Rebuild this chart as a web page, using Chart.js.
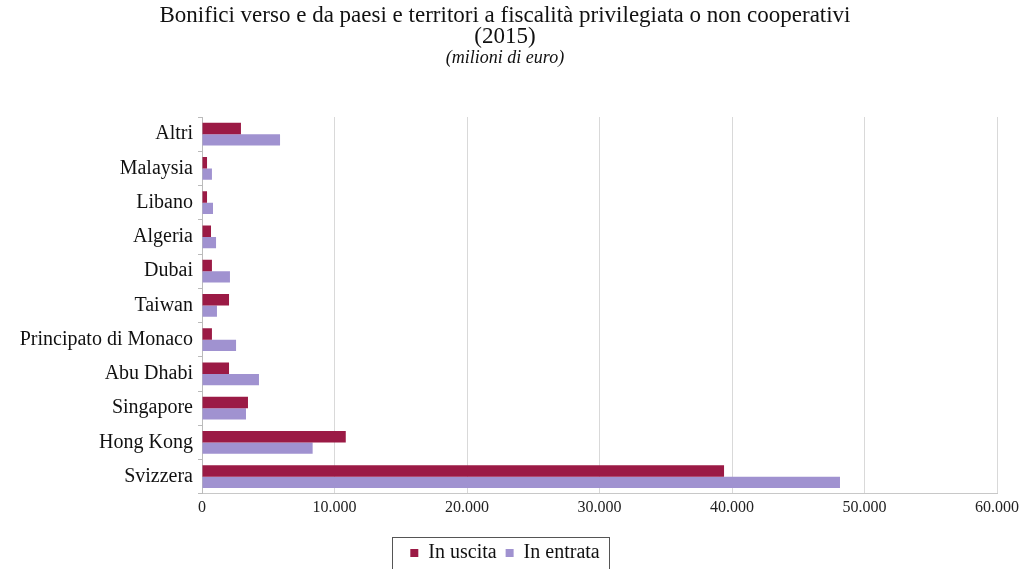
<!DOCTYPE html>
<html>
<head>
<meta charset="utf-8">
<script src="https://cdn.jsdelivr.net/npm/chart.js@4/dist/chart.umd.min.js"></script>
<style>
  html, body { margin: 0; padding: 0; background: #fff; }
  #wrap { width: 1023px; height: 569px; }
</style>
</head>
<body>
<div id="wrap"><canvas id="bonificiChart"></canvas></div>
<script>
// Data (milioni di euro, 2015)
const categories = ['Altri', 'Malaysia', 'Libano', 'Algeria', 'Dubai', 'Taiwan',
  'Principato di Monaco', 'Abu Dhabi', 'Singapore', 'Hong Kong', 'Svizzera'];
const inUscita = [2940, 380, 380, 680, 750, 2040, 750, 2040, 3470, 10850, 39400];
const inEntrata = [5890, 750, 830, 1060, 2110, 1130, 2570, 4300, 3320, 8350, 48150];
const xTicks = [0, 10000, 20000, 30000, 40000, 50000, 60000];

const serif = '"Liberation Serif", "DejaVu Serif", serif';

// thin box round the legend items, like the original
const legendBox = {
  id: 'legendBox',
  afterDraw(chart) {
    const boxes = chart.legend && chart.legend.legendHitBoxes;
    if (!boxes || !boxes.length) return;
    const left = Math.min(...boxes.map(b => b.left)) - 18;
    const right = Math.max(...boxes.map(b => b.left + b.width)) + 10;
    const top = Math.min(...boxes.map(b => b.top)) - 6;
    const bottom = Math.max(...boxes.map(b => b.top + b.height)) + 8;
    const ctx = chart.ctx;
    ctx.save();
    ctx.strokeStyle = '#555';
    ctx.lineWidth = 1;
    ctx.strokeRect(Math.round(left) + 0.5, Math.round(top) + 0.5,
      Math.round(right - left), Math.round(bottom - top));
    ctx.restore();
  }
};

const fmt = v => String(v).replace(/\B(?=(\d{3})+(?!\d))/g, '.');

const ctx = document.getElementById('bonificiChart').getContext('2d');
const bonificiChart = new Chart(ctx, {
  type: 'bar',
  data: {
    labels: categories,
    datasets: [{
      label: 'In uscita',
      data: inUscita,
      backgroundColor: '#9b1a45',
      borderWidth: 0
    }, {
      label: 'In entrata',
      data: inEntrata,
      backgroundColor: '#a092d0',
      borderWidth: 0
    }]
  },
  options: {
    indexAxis: 'y',
    responsive: true,
    maintainAspectRatio: false,
    animation: false,
    datasets: {
      bar: { categoryPercentage: 0.66, barPercentage: 1.0 }
    },
    layout: { padding: { left: 12, right: 25, top: 6, bottom: -4 } },
    plugins: {
      title: {
        display: true,
        text: ['Bonifici verso e da paesi e territori a fiscalità privilegiata o non cooperativi', '(2015)'],
        color: '#111',
        font: { family: serif, size: 23, weight: 'normal', lineHeight: 0.9 },
        padding: { top: 0, bottom: 0 }
      },
      subtitle: {
        display: true,
        text: '(milioni di euro)',
        color: '#111',
        font: { family: serif, size: 18, style: 'italic', weight: 'normal' },
        padding: { top: 0, bottom: 48 }
      },
      legend: {
        position: 'bottom',
        labels: {
          boxWidth: 8,
          boxHeight: 8,
          padding: 9,
          color: '#111',
          font: { family: serif, size: 20 }
        }
      },
      tooltip: { enabled: false }
    },
    scales: {
      x: {
        min: 0,
        max: 60000,
        afterBuildTicks: axis => { axis.ticks = xTicks.map(v => ({ value: v })); },
        afterFit: axis => { axis.height += 13; },
        ticks: {
          callback: v => fmt(v),
          color: '#222',
          font: { family: serif, size: 16 },
          padding: 4
        },
        grid: { color: '#d9d9d9', drawTicks: false },
        border: { display: true, color: '#c8c8c8' }
      },
      y: {
        afterFit: axis => { axis.width = 190; },
        ticks: {
          color: '#111',
          font: { family: serif, size: 20 },
          padding: 5
        },
        grid: { drawOnChartArea: false, drawTicks: true, tickLength: 4, offset: true, color: '#bbbbbb' },
        border: { display: true, color: '#bbbbbb' }
      }
    }
  },
  plugins: [legendBox]
});
</script>
</body>
</html>
